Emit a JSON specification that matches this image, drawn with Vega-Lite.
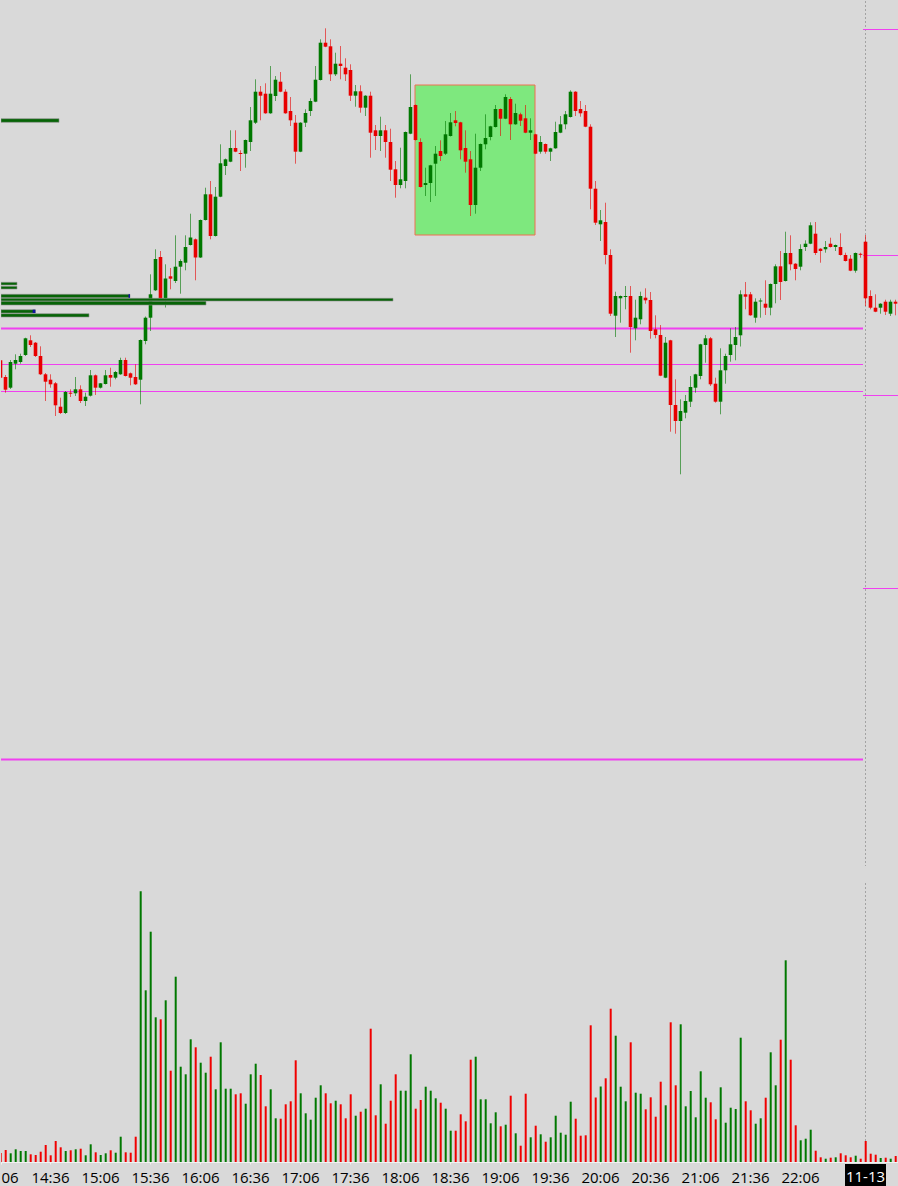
{
  "$schema": "https://vega.github.io/schema/vega-lite/v6.json",
  "background": "#d9d9d9",
  "padding": 0,
  "spacing": 15,
  "config": {"view": {"stroke": null}, "font": "Open Sans"},
  "resolve": {"scale": {"x": "independent", "y": "independent"}},
  "datasets": {
    "candles": [
      {"t":"2024-11-12T14:06Z","o":640.7,"h":640.7,"l":623.3,"c":623.3,"v":90},
      {"t":"2024-11-12T14:09Z","o":624,"h":626,"l":608.3,"c":611.3,"v":120},
      {"t":"2024-11-12T14:12Z","o":613.3,"h":641,"l":612,"c":639,"v":87},
      {"t":"2024-11-12T14:15Z","o":637.3,"h":646.7,"l":631.7,"c":641,"v":127},
      {"t":"2024-11-12T14:18Z","o":639,"h":647.3,"l":637.3,"c":645,"v":110},
      {"t":"2024-11-12T14:21Z","o":646,"h":663.3,"l":645,"c":662.7,"v":110},
      {"t":"2024-11-12T14:24Z","o":660.7,"h":665.7,"l":654,"c":656,"v":77},
      {"t":"2024-11-12T14:27Z","o":658.3,"h":659,"l":644,"c":645,"v":70},
      {"t":"2024-11-12T14:30Z","o":645,"h":654.7,"l":626,"c":626.7,"v":103},
      {"t":"2024-11-12T14:33Z","o":626.7,"h":628,"l":600,"c":619.3,"v":170},
      {"t":"2024-11-12T14:36Z","o":621.3,"h":626.7,"l":613.3,"c":616.7,"v":67},
      {"t":"2024-11-12T14:39Z","o":617.7,"h":619,"l":585,"c":595.7,"v":210},
      {"t":"2024-11-12T14:42Z","o":594.3,"h":603.3,"l":587,"c":588,"v":147},
      {"t":"2024-11-12T14:45Z","o":588,"h":610,"l":587,"c":609,"v":110},
      {"t":"2024-11-12T14:48Z","o":608.3,"h":611.7,"l":604,"c":607.3,"v":117},
      {"t":"2024-11-12T14:51Z","o":607.7,"h":624,"l":605,"c":611.7,"v":127},
      {"t":"2024-11-12T14:54Z","o":611.7,"h":615.7,"l":598,"c":600,"v":133},
      {"t":"2024-11-12T14:57Z","o":600,"h":608.3,"l":595,"c":604.3,"v":67},
      {"t":"2024-11-12T15:00Z","o":605.3,"h":631,"l":604.5,"c":625.7,"v":177},
      {"t":"2024-11-12T15:03Z","o":625.7,"h":626.5,"l":606,"c":613.3,"v":97},
      {"t":"2024-11-12T15:06Z","o":613.3,"h":618,"l":612.5,"c":617.7,"v":70},
      {"t":"2024-11-12T15:09Z","o":617,"h":631,"l":616.5,"c":625.7,"v":87},
      {"t":"2024-11-12T15:12Z","o":626,"h":633.3,"l":614.3,"c":623.3,"v":117},
      {"t":"2024-11-12T15:15Z","o":623.3,"h":630,"l":621.7,"c":629,"v":93},
      {"t":"2024-11-12T15:18Z","o":626.7,"h":643.3,"l":626.2,"c":641,"v":253},
      {"t":"2024-11-12T15:21Z","o":641,"h":643.3,"l":624.5,"c":625,"v":97},
      {"t":"2024-11-12T15:24Z","o":627.7,"h":628.5,"l":615.7,"c":623.3,"v":93},
      {"t":"2024-11-12T15:27Z","o":624,"h":636.7,"l":616,"c":616.7,"v":253},
      {"t":"2024-11-12T15:30Z","o":621.3,"h":661.5,"l":596.7,"c":661,"v":2707},
      {"t":"2024-11-12T15:33Z","o":660,"h":684.5,"l":656.7,"c":683.3,"v":1717},
      {"t":"2024-11-12T15:36Z","o":683.3,"h":726.7,"l":670,"c":706.7,"v":2303},
      {"t":"2024-11-12T15:39Z","o":710.7,"h":751.7,"l":710,"c":742,"v":1447},
      {"t":"2024-11-12T15:42Z","o":744,"h":750,"l":702,"c":702.7,"v":1427},
      {"t":"2024-11-12T15:45Z","o":702.7,"h":736.7,"l":693.5,"c":722.5,"v":1617},
      {"t":"2024-11-12T15:48Z","o":724.7,"h":733,"l":711.7,"c":722.3,"v":913},
      {"t":"2024-11-12T15:51Z","o":720,"h":765.7,"l":718,"c":734.3,"v":1853},
      {"t":"2024-11-12T15:54Z","o":734.3,"h":741.7,"l":707.3,"c":740,"v":953},
      {"t":"2024-11-12T15:57Z","o":738.3,"h":765.7,"l":730.7,"c":754,"v":877},
      {"t":"2024-11-12T16:00Z","o":756,"h":787.3,"l":755.5,"c":763.5,"v":1227},
      {"t":"2024-11-12T16:03Z","o":761.7,"h":762.5,"l":720.7,"c":743.5,"v":1147},
      {"t":"2024-11-12T16:06Z","o":743.5,"h":781.5,"l":743,"c":781,"v":993},
      {"t":"2024-11-12T16:09Z","o":781,"h":813.3,"l":780.5,"c":806.7,"v":893},
      {"t":"2024-11-12T16:12Z","o":806.7,"h":820,"l":761.7,"c":765,"v":1053},
      {"t":"2024-11-12T16:15Z","o":765,"h":814,"l":764.5,"c":804.3,"v":727},
      {"t":"2024-11-12T16:18Z","o":804.3,"h":856.7,"l":803.8,"c":837.7,"v":1197},
      {"t":"2024-11-12T16:21Z","o":835,"h":842.5,"l":826,"c":841.7,"v":733},
      {"t":"2024-11-12T16:24Z","o":839.3,"h":870.7,"l":838.8,"c":853,"v":733},
      {"t":"2024-11-12T16:27Z","o":853,"h":870.7,"l":848.8,"c":849.3,"v":677},
      {"t":"2024-11-12T16:30Z","o":848,"h":850.7,"l":830,"c":847,"v":687},
      {"t":"2024-11-12T16:33Z","o":847.3,"h":861.5,"l":833.3,"c":861,"v":583},
      {"t":"2024-11-12T16:36Z","o":859,"h":894,"l":850,"c":880.7,"v":877},
      {"t":"2024-11-12T16:39Z","o":878.3,"h":921.7,"l":877,"c":909.3,"v":983},
      {"t":"2024-11-12T16:42Z","o":909.3,"h":915,"l":880.7,"c":905.3,"v":870},
      {"t":"2024-11-12T16:45Z","o":907.3,"h":917.7,"l":887.2,"c":887.7,"v":557},
      {"t":"2024-11-12T16:48Z","o":887.7,"h":935,"l":887.2,"c":907.3,"v":727},
      {"t":"2024-11-12T16:51Z","o":905,"h":925,"l":900,"c":921.3,"v":437},
      {"t":"2024-11-12T16:54Z","o":919.3,"h":929,"l":908.8,"c":909.3,"v":433},
      {"t":"2024-11-12T16:57Z","o":909.3,"h":911.7,"l":887.2,"c":887.7,"v":577},
      {"t":"2024-11-12T17:00Z","o":890,"h":904,"l":875,"c":880.7,"v":607},
      {"t":"2024-11-12T17:03Z","o":878.3,"h":886,"l":837.3,"c":849.3,"v":1017},
      {"t":"2024-11-12T17:06Z","o":849.3,"h":878.8,"l":848.8,"c":878.3,"v":687},
      {"t":"2024-11-12T17:09Z","o":878.3,"h":891.7,"l":874,"c":888,"v":487},
      {"t":"2024-11-12T17:12Z","o":890,"h":902.7,"l":885,"c":900,"v":423},
      {"t":"2024-11-12T17:15Z","o":899.3,"h":935,"l":898.8,"c":921.3,"v":643},
      {"t":"2024-11-12T17:18Z","o":921,"h":961.7,"l":920.5,"c":958.3,"v":767},
      {"t":"2024-11-12T17:21Z","o":958.3,"h":972.7,"l":953.8,"c":954.3,"v":687},
      {"t":"2024-11-12T17:24Z","o":954.7,"h":961.7,"l":920,"c":926.7,"v":587},
      {"t":"2024-11-12T17:27Z","o":926.7,"h":948.3,"l":925,"c":937.3,"v":613},
      {"t":"2024-11-12T17:30Z","o":937.3,"h":955,"l":921.7,"c":935,"v":577},
      {"t":"2024-11-12T17:33Z","o":933.3,"h":942.7,"l":920,"c":926.7,"v":437},
      {"t":"2024-11-12T17:36Z","o":931,"h":936.7,"l":900,"c":905.3,"v":677},
      {"t":"2024-11-12T17:39Z","o":905.3,"h":916,"l":894.3,"c":909.7,"v":463},
      {"t":"2024-11-12T17:42Z","o":909.7,"h":915.7,"l":888.3,"c":893.3,"v":503},
      {"t":"2024-11-12T17:45Z","o":893.3,"h":905.8,"l":885,"c":905.3,"v":533},
      {"t":"2024-11-12T17:48Z","o":905.3,"h":909.3,"l":843.3,"c":868.3,"v":1333},
      {"t":"2024-11-12T17:51Z","o":870.7,"h":876,"l":851,"c":865,"v":467},
      {"t":"2024-11-12T17:54Z","o":865,"h":884.3,"l":850,"c":870.7,"v":777},
      {"t":"2024-11-12T17:57Z","o":870.7,"h":876,"l":843.3,"c":859,"v":383},
      {"t":"2024-11-12T18:00Z","o":859,"h":872.3,"l":820,"c":831.3,"v":613},
      {"t":"2024-11-12T18:03Z","o":831.7,"h":840,"l":803.3,"c":816,"v":877},
      {"t":"2024-11-12T18:06Z","o":816,"h":853.3,"l":812.7,"c":821.7,"v":713},
      {"t":"2024-11-12T18:09Z","o":820,"h":869.5,"l":812.7,"c":869,"v":713},
      {"t":"2024-11-12T18:12Z","o":867.3,"h":926.7,"l":866.8,"c":894,"v":1077},
      {"t":"2024-11-12T18:15Z","o":896,"h":896.5,"l":860.5,"c":861,"v":533},
      {"t":"2024-11-12T18:18Z","o":859,"h":862.7,"l":813.5,"c":814,"v":620},
      {"t":"2024-11-12T18:21Z","o":816,"h":833.3,"l":805,"c":818,"v":753},
      {"t":"2024-11-12T18:24Z","o":818,"h":836.2,"l":799,"c":835.7,"v":713},
      {"t":"2024-11-12T18:27Z","o":837.3,"h":855,"l":805,"c":847.3,"v":637},
      {"t":"2024-11-12T18:30Z","o":850,"h":860.7,"l":840,"c":845,"v":593},
      {"t":"2024-11-12T18:33Z","o":847.3,"h":880,"l":846,"c":866.7,"v":533},
      {"t":"2024-11-12T18:36Z","o":865,"h":888,"l":864.5,"c":878.7,"v":313},
      {"t":"2024-11-12T18:39Z","o":880.7,"h":890,"l":874.7,"c":878,"v":313},
      {"t":"2024-11-12T18:42Z","o":878.7,"h":879.2,"l":841.7,"c":850.7,"v":477},
      {"t":"2024-11-12T18:45Z","o":853,"h":870.7,"l":828.3,"c":839.3,"v":407},
      {"t":"2024-11-12T18:48Z","o":841.7,"h":850,"l":785,"c":796,"v":1023},
      {"t":"2024-11-12T18:51Z","o":796,"h":867.3,"l":787.3,"c":833.3,"v":1053},
      {"t":"2024-11-12T18:54Z","o":833.3,"h":857.5,"l":830,"c":857,"v":627},
      {"t":"2024-11-12T18:57Z","o":856.7,"h":886.7,"l":851.7,"c":863,"v":627},
      {"t":"2024-11-12T19:00Z","o":864,"h":875.2,"l":860.7,"c":874.7,"v":387},
      {"t":"2024-11-12T19:03Z","o":874,"h":896,"l":873.5,"c":892,"v":497},
      {"t":"2024-11-12T19:06Z","o":892,"h":892.5,"l":865,"c":882.3,"v":357},
      {"t":"2024-11-12T19:09Z","o":882.3,"h":906.7,"l":881.8,"c":904,"v":373},
      {"t":"2024-11-12T19:12Z","o":902,"h":904,"l":861,"c":876.7,"v":663},
      {"t":"2024-11-12T19:15Z","o":876.7,"h":897.3,"l":876.2,"c":888,"v":287},
      {"t":"2024-11-12T19:18Z","o":886.7,"h":888.3,"l":875,"c":880.3,"v":163},
      {"t":"2024-11-12T19:21Z","o":882.7,"h":896,"l":867.8,"c":868.3,"v":683},
      {"t":"2024-11-12T19:24Z","o":868.3,"h":882.7,"l":861,"c":870.7,"v":247},
      {"t":"2024-11-12T19:27Z","o":866.7,"h":867.2,"l":846.8,"c":847.3,"v":363},
      {"t":"2024-11-12T19:30Z","o":849.3,"h":865,"l":847.3,"c":859,"v":277},
      {"t":"2024-11-12T19:33Z","o":857,"h":857.5,"l":847.3,"c":849.3,"v":203},
      {"t":"2024-11-12T19:36Z","o":849.3,"h":853.2,"l":840,"c":852.7,"v":247},
      {"t":"2024-11-12T19:39Z","o":852.7,"h":879.3,"l":852.2,"c":869,"v":463},
      {"t":"2024-11-12T19:42Z","o":868.3,"h":885,"l":867.8,"c":876.7,"v":293},
      {"t":"2024-11-12T19:45Z","o":876.7,"h":890,"l":871.7,"c":886.7,"v":273},
      {"t":"2024-11-12T19:48Z","o":884,"h":910.7,"l":883.5,"c":909.3,"v":603},
      {"t":"2024-11-12T19:51Z","o":909.3,"h":909.8,"l":885,"c":890,"v":433},
      {"t":"2024-11-12T19:54Z","o":892,"h":900,"l":884.3,"c":887.7,"v":263},
      {"t":"2024-11-12T19:57Z","o":890,"h":896,"l":873.8,"c":874.3,"v":267},
      {"t":"2024-11-12T20:00Z","o":874.3,"h":876.7,"l":791.7,"c":812.3,"v":1367},
      {"t":"2024-11-12T20:03Z","o":812.3,"h":820,"l":776,"c":778.3,"v":645},
      {"t":"2024-11-12T20:06Z","o":776.7,"h":791,"l":760,"c":780.7,"v":755},
      {"t":"2024-11-12T20:09Z","o":779,"h":798.3,"l":736.7,"c":746,"v":837},
      {"t":"2024-11-12T20:12Z","o":746,"h":751.7,"l":685,"c":687.3,"v":1533},
      {"t":"2024-11-12T20:15Z","o":685.3,"h":709.3,"l":664,"c":705,"v":1263},
      {"t":"2024-11-12T20:18Z","o":702.7,"h":705.5,"l":678.3,"c":705,"v":753},
      {"t":"2024-11-12T20:21Z","o":704,"h":715,"l":691.7,"c":705,"v":607},
      {"t":"2024-11-12T20:24Z","o":705,"h":715,"l":648.3,"c":674,"v":1197},
      {"t":"2024-11-12T20:27Z","o":672.7,"h":701.3,"l":660.7,"c":683.3,"v":693},
      {"t":"2024-11-12T20:30Z","o":681.7,"h":709.3,"l":676.7,"c":705,"v":683},
      {"t":"2024-11-12T20:33Z","o":703.3,"h":712.7,"l":697.3,"c":700.7,"v":527},
      {"t":"2024-11-12T20:36Z","o":701,"h":709,"l":662.3,"c":670,"v":647},
      {"t":"2024-11-12T20:39Z","o":671.7,"h":685.7,"l":662.7,"c":666,"v":453},
      {"t":"2024-11-12T20:42Z","o":666,"h":676,"l":624.8,"c":625.3,"v":803},
      {"t":"2024-11-12T20:45Z","o":623.3,"h":664,"l":622.8,"c":658.3,"v":567},
      {"t":"2024-11-12T20:48Z","o":660.7,"h":661.2,"l":569.3,"c":596,"v":1397},
      {"t":"2024-11-12T20:51Z","o":596,"h":621.7,"l":567.3,"c":580,"v":767},
      {"t":"2024-11-12T20:54Z","o":580,"h":601.7,"l":526.7,"c":590,"v":1377},
      {"t":"2024-11-12T20:57Z","o":588.3,"h":606,"l":582.7,"c":600,"v":557},
      {"t":"2024-11-12T21:00Z","o":599.3,"h":625,"l":594,"c":614,"v":710},
      {"t":"2024-11-12T21:03Z","o":613.3,"h":627.2,"l":608.3,"c":626.7,"v":447},
      {"t":"2024-11-12T21:06Z","o":625,"h":657.2,"l":621.7,"c":656.7,"v":907},
      {"t":"2024-11-12T21:09Z","o":656,"h":666,"l":638.3,"c":662.7,"v":643},
      {"t":"2024-11-12T21:12Z","o":662.7,"h":664,"l":615,"c":616.7,"v":597},
      {"t":"2024-11-12T21:15Z","o":617.3,"h":623.3,"l":598.3,"c":599.3,"v":427},
      {"t":"2024-11-12T21:18Z","o":599.3,"h":652.7,"l":586.7,"c":630.7,"v":747},
      {"t":"2024-11-12T21:21Z","o":630.7,"h":647.3,"l":617.3,"c":645,"v":393},
      {"t":"2024-11-12T21:24Z","o":646,"h":672.7,"l":639.3,"c":656.7,"v":543},
      {"t":"2024-11-12T21:27Z","o":656,"h":674,"l":640.7,"c":664,"v":530},
      {"t":"2024-11-12T21:30Z","o":665.7,"h":710.7,"l":654.5,"c":706.7,"v":1243},
      {"t":"2024-11-12T21:33Z","o":706.7,"h":719,"l":691.7,"c":704.3,"v":607},
      {"t":"2024-11-12T21:36Z","o":706.7,"h":709,"l":685.2,"c":685.7,"v":517},
      {"t":"2024-11-12T21:39Z","o":683.3,"h":702.7,"l":678.3,"c":699.3,"v":383},
      {"t":"2024-11-12T21:42Z","o":699.5,"h":702.7,"l":683.3,"c":700.5,"v":437},
      {"t":"2024-11-12T21:45Z","o":697.3,"h":720.7,"l":686,"c":693.3,"v":643},
      {"t":"2024-11-12T21:48Z","o":693.3,"h":717.5,"l":685.7,"c":717,"v":1097},
      {"t":"2024-11-12T21:51Z","o":717,"h":736.7,"l":697.7,"c":734.7,"v":767},
      {"t":"2024-11-12T21:54Z","o":734.7,"h":750,"l":701,"c":719,"v":1223},
      {"t":"2024-11-12T21:57Z","o":720,"h":769.3,"l":719.5,"c":748,"v":2017},
      {"t":"2024-11-12T22:00Z","o":748,"h":765.7,"l":730.7,"c":736.7,"v":1023},
      {"t":"2024-11-12T22:03Z","o":737.3,"h":737.8,"l":720.7,"c":732,"v":367},
      {"t":"2024-11-12T22:06Z","o":734.3,"h":756.7,"l":730.7,"c":752,"v":217},
      {"t":"2024-11-12T22:09Z","o":754,"h":760.7,"l":750,"c":757.3,"v":233},
      {"t":"2024-11-12T22:12Z","o":757.3,"h":778.7,"l":756.8,"c":775.7,"v":323},
      {"t":"2024-11-12T22:15Z","o":767.3,"h":779,"l":746,"c":748,"v":113},
      {"t":"2024-11-12T22:18Z","o":752.3,"h":752.8,"l":738.3,"c":750,"v":47},
      {"t":"2024-11-12T22:21Z","o":751.7,"h":760,"l":748.3,"c":754,"v":33},
      {"t":"2024-11-12T22:24Z","o":757.3,"h":763.3,"l":753.5,"c":754,"v":43},
      {"t":"2024-11-12T22:27Z","o":754,"h":756.5,"l":750,"c":756,"v":47},
      {"t":"2024-11-12T22:30Z","o":754,"h":767.7,"l":745.5,"c":746,"v":87},
      {"t":"2024-11-12T22:33Z","o":746,"h":748.3,"l":739.5,"c":740,"v":67},
      {"t":"2024-11-12T22:36Z","o":742.3,"h":746,"l":729.8,"c":730.3,"v":47},
      {"t":"2024-11-12T22:39Z","o":730.3,"h":748.5,"l":728.3,"c":748,"v":63},
      {"t":"2024-11-12T22:42Z","o":747.2,"h":748.3,"l":743.3,"c":746.2,"v":33},
      {"t":"2024-11-12T22:45Z","o":759.3,"h":766,"l":695,"c":702.7,"v":210},
      {"t":"2024-11-12T22:48Z","o":705,"h":710.7,"l":691.7,"c":693.3,"v":83},
      {"t":"2024-11-12T22:51Z","o":693.3,"h":706.7,"l":688.8,"c":689.3,"v":73},
      {"t":"2024-11-12T22:54Z","o":693.3,"h":697.8,"l":687.3,"c":697.3,"v":40},
      {"t":"2024-11-12T22:57Z","o":699.3,"h":701.3,"l":686,"c":689.3,"v":43},
      {"t":"2024-11-12T23:00Z","o":687.3,"h":701.3,"l":685,"c":699.3,"v":33},
      {"t":"2024-11-12T23:03Z","o":699.3,"h":701.3,"l":685.7,"c":697.3,"v":60},
      {"t":"2024-11-12T23:06Z","o":695,"h":697,"l":690,"c":691.7,"v":60}
    ],
    "session": [{"t": "2024-11-12T22:45:00Z", "label": "11-13"}],
    "zone": [{"t": "2024-11-12T18:15:00Z", "t2": "2024-11-12T19:27:00Z", "top": 916, "bottom": 766}],
    "levels": [
      {"t": "2024-11-12T14:06:36Z", "t2": "2024-11-12T22:43:48Z", "p": 672.5, "level": "major"},
      {"t": "2024-11-12T14:06:36Z", "t2": "2024-11-12T22:43:48Z", "p": 636.5, "level": "minor"},
      {"t": "2024-11-12T14:06:36Z", "t2": "2024-11-12T22:43:48Z", "p": 609.5, "level": "minor"},
      {"t": "2024-11-12T14:06:36Z", "t2": "2024-11-12T22:43:48Z", "p": 241.6, "level": "major"},
      {"t": "2024-11-12T22:43:48Z", "t2": "2024-11-12T23:05:24Z", "p": 971.5, "level": "minor"},
      {"t": "2024-11-12T22:43:48Z", "t2": "2024-11-12T23:05:24Z", "p": 745.5, "level": "minor"},
      {"t": "2024-11-12T22:43:48Z", "t2": "2024-11-12T23:05:24Z", "p": 605.5, "level": "minor"},
      {"t": "2024-11-12T22:43:48Z", "t2": "2024-11-12T23:05:24Z", "p": 412.5, "level": "minor"}
    ],
    "profile": [
      {"t": "2024-11-12T14:06:36Z", "t2": "2024-11-12T14:41:24Z", "top": 882.3, "bottom": 878.7},
      {"t": "2024-11-12T14:06:36Z", "t2": "2024-11-12T14:16:12Z", "top": 718.7, "bottom": 716},
      {"t": "2024-11-12T14:06:36Z", "t2": "2024-11-12T14:16:12Z", "top": 714.7, "bottom": 712},
      {"t": "2024-11-12T14:06:36Z", "t2": "2024-11-12T15:24:00Z", "top": 706.7, "bottom": 703.3},
      {"t": "2024-11-12T14:06:36Z", "t2": "2024-11-12T18:01:48Z", "top": 702.7, "bottom": 700},
      {"t": "2024-11-12T14:06:36Z", "t2": "2024-11-12T16:09:36Z", "top": 699.7, "bottom": 696},
      {"t": "2024-11-12T14:06:36Z", "t2": "2024-11-12T14:27:12Z", "top": 691.3, "bottom": 688},
      {"t": "2024-11-12T14:06:36Z", "t2": "2024-11-12T14:59:24Z", "top": 687.3, "bottom": 684}
    ],
    "tips": [
      {"t": "2024-11-12T15:23:06Z", "t2": "2024-11-12T15:24:00Z", "top": 706.7, "bottom": 703.3},
      {"t": "2024-11-12T14:25:36Z", "t2": "2024-11-12T14:27:12Z", "top": 691.3, "bottom": 688}
    ]
  },
  "vconcat": [
    {
      "width": 898,
      "height": 865,
      "encoding": {
        "x": {"field": "t", "type": "temporal", "axis": null,
              "scale": {"type": "utc", "nice": false, "domain": [
                {"year": 2024, "month": 11, "date": 12, "hours": 14, "minutes": 6, "seconds": 36, "utc": true},
                {"year": 2024, "month": 11, "date": 12, "hours": 23, "minutes": 5, "seconds": 24, "utc": true}]}}
      },
      "layer": [
        {
          "data": {"name": "zone"},
          "mark": {"type": "rect", "fill": "#7ee87e", "stroke": "#ee7050", "strokeWidth": 1},
          "encoding": {
            "x2": {"field": "t2"},
            "y": {"field": "top", "type": "quantitative", "axis": null, "scale": {"domain": [135, 1000], "nice": false, "zero": false}},
            "y2": {"field": "bottom"}
          }
        },
        {
          "data": {"name": "session"},
          "mark": {"type": "rule", "stroke": "#a3a3a3", "strokeWidth": 1, "strokeDash": [2, 2], "xOffset": 0.5},
          "encoding": {}
        },
        {
          "data": {"name": "levels"},
          "mark": {"type": "rule", "color": "#f040f0", "clip": true},
          "encoding": {
            "x2": {"field": "t2"},
            "y": {"field": "p", "type": "quantitative", "axis": null, "scale": {"domain": [135, 1000], "nice": false, "zero": false}},
            "strokeWidth": {"field": "level", "type": "nominal", "legend": null, "scale": {"domain": ["major", "minor"], "range": [2, 1]}}
          }
        },
        {
          "data": {"name": "candles"},
          "mark": {"type": "rule", "strokeWidth": 1, "opacity": 0.6, "xOffset": 0.5, "clip": true},
          "encoding": {
            "y": {"field": "l", "type": "quantitative", "axis": null, "scale": {"domain": [135, 1000], "nice": false, "zero": false}},
            "y2": {"field": "h"},
            "color": {"condition": {"test": "datum.c >= datum.o", "value": "#007800"}, "value": "#e80000"}
          }
        },
        {
          "data": {"name": "candles"},
          "mark": {"type": "rule", "strokeWidth": 3.6, "xOffset": 0.5, "clip": true},
          "encoding": {
            "y": {"field": "o", "type": "quantitative", "axis": null, "scale": {"domain": [135, 1000], "nice": false, "zero": false}},
            "y2": {"field": "c"},
            "color": {"condition": {"test": "datum.c >= datum.o", "value": "#007800"}, "value": "#e80000"}
          }
        },
        {
          "data": {"name": "profile"},
          "mark": {"type": "rect", "fill": "#066406", "stroke": "#8e8e8e", "strokeWidth": 0.6, "clip": true},
          "encoding": {
            "x2": {"field": "t2"},
            "y": {"field": "top", "type": "quantitative", "axis": null, "scale": {"domain": [135, 1000], "nice": false, "zero": false}},
            "y2": {"field": "bottom"}
          }
        },
        {
          "data": {"name": "tips"},
          "mark": {"type": "rect", "fill": "#1010a0", "clip": true},
          "encoding": {
            "x2": {"field": "t2"},
            "y": {"field": "top", "type": "quantitative", "axis": null, "scale": {"domain": [135, 1000], "nice": false, "zero": false}},
            "y2": {"field": "bottom"}
          }
        }
      ]
    },
    {
      "width": 898,
      "height": 279,
      "encoding": {
        "x": {"field": "t", "type": "temporal",
              "scale": {"type": "utc", "nice": false, "domain": [
                {"year": 2024, "month": 11, "date": 12, "hours": 14, "minutes": 6, "seconds": 36, "utc": true},
                {"year": 2024, "month": 11, "date": 12, "hours": 23, "minutes": 5, "seconds": 24, "utc": true}]},
              "axis": {
                "title": null, "grid": false,
                "values": [
                  {"year": 2024, "month": 11, "date": 12, "hours": 14, "minutes": 6, "seconds": 36, "utc": true},
                  {"year": 2024, "month": 11, "date": 12, "hours": 14, "minutes": 36, "utc": true},
                  {"year": 2024, "month": 11, "date": 12, "hours": 15, "minutes": 6, "utc": true},
                  {"year": 2024, "month": 11, "date": 12, "hours": 15, "minutes": 36, "utc": true},
                  {"year": 2024, "month": 11, "date": 12, "hours": 16, "minutes": 6, "utc": true},
                  {"year": 2024, "month": 11, "date": 12, "hours": 16, "minutes": 36, "utc": true},
                  {"year": 2024, "month": 11, "date": 12, "hours": 17, "minutes": 6, "utc": true},
                  {"year": 2024, "month": 11, "date": 12, "hours": 17, "minutes": 36, "utc": true},
                  {"year": 2024, "month": 11, "date": 12, "hours": 18, "minutes": 6, "utc": true},
                  {"year": 2024, "month": 11, "date": 12, "hours": 18, "minutes": 36, "utc": true},
                  {"year": 2024, "month": 11, "date": 12, "hours": 19, "minutes": 6, "utc": true},
                  {"year": 2024, "month": 11, "date": 12, "hours": 19, "minutes": 36, "utc": true},
                  {"year": 2024, "month": 11, "date": 12, "hours": 20, "minutes": 6, "utc": true},
                  {"year": 2024, "month": 11, "date": 12, "hours": 20, "minutes": 36, "utc": true},
                  {"year": 2024, "month": 11, "date": 12, "hours": 21, "minutes": 6, "utc": true},
                  {"year": 2024, "month": 11, "date": 12, "hours": 21, "minutes": 36, "utc": true},
                  {"year": 2024, "month": 11, "date": 12, "hours": 22, "minutes": 6, "utc": true}
                ],
                "labelExpr": "utcFormat(datum.value, '%H:%M') == '14:06' ? '06' : utcFormat(datum.value, '%H:%M')",
                "labelAlign": {"condition": {"test": "utchours(datum.value) == 14 && utcminutes(datum.value) == 6", "value": "left"}, "value": "center"},
                "labelFlush": false, "labelOverlap": false,
                "labelFont": "Open Sans", "labelFontSize": 15, "labelColor": "#000000",
                "labelPadding": 6, "tickSize": 2, "tickColor": "#f2f2f2",
                "domainColor": "#f2f2f2", "domainWidth": 1
              }}
      },
      "layer": [
        {
          "data": {"name": "session"},
          "mark": {"type": "rule", "stroke": "#a3a3a3", "strokeWidth": 1, "strokeDash": [2, 2], "xOffset": 0.5},
          "encoding": {}
        },
        {
          "data": {"name": "candles"},
          "mark": {"type": "rule", "strokeWidth": 2, "xOffset": 0.7, "clip": true},
          "encoding": {
            "y": {"field": "v", "type": "quantitative", "axis": null, "scale": {"domain": [0, 2790], "nice": false}},
            "y2": {"datum": 0},
            "color": {"condition": {"test": "datum.c >= datum.o", "value": "#007800"}, "value": "#f00000"}
          }
        },
        {
          "data": {"name": "session"},
          "mark": {"type": "point", "shape": "M-1,-0.537H1V0.537H-1Z", "size": 1681, "filled": true, "color": "#000000", "opacity": 1, "xOffset": 0.5},
          "encoding": {
            "y": {"datum": -130, "type": "quantitative", "axis": null, "scale": {"domain": [0, 2790], "nice": false}}
          }
        },
        {
          "data": {"name": "session"},
          "mark": {"type": "text", "color": "#ffffff", "font": "Open Sans", "fontSize": 15, "align": "center", "baseline": "alphabetic", "xOffset": 0.5},
          "encoding": {
            "y": {"datum": -200, "type": "quantitative", "axis": null, "scale": {"domain": [0, 2790], "nice": false}},
            "text": {"field": "label"}
          }
        }
      ]
    }
  ]
}
